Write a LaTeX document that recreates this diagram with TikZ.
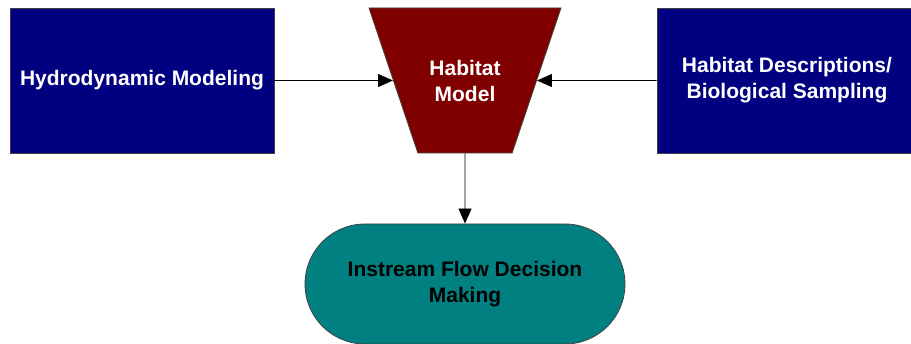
\documentclass[tikz,border=0pt]{standalone}
\usepackage{fontspec}
\setmainfont{Liberation Sans}
\usetikzlibrary{arrows.meta,shapes.geometric,shapes.misc}

\begin{document}
\begin{tikzpicture}[x=1pt,y=1pt,
  box/.style={draw=borderColor,line width=0.8pt,text=white,align=center,inner sep=0pt,
    font=\fontsize{21}{26}\selectfont\bfseries},
  flow/.style={draw=black,line width=0.8pt,-{Triangle[length=15pt,width=13pt]}}]
\definecolor{fillColor}{RGB}{255,255,255}
\definecolor{borderColor}{RGB}{64,64,64}
\definecolor{hydroColor}{RGB}{0,0,128}
\definecolor{habitatColor}{RGB}{128,0,0}
\definecolor{decisionColor}{RGB}{0,128,128}
\path[use as bounding box,fill=fillColor] (0,0) rectangle (911,343);

\node[box,fill=hydroColor,minimum width=264pt,minimum height=145pt] (hydro) at (142,262.5) {Hydrodynamic Modeling};

\node[box,fill=habitatColor,trapezium,shape border rotate=180,trapezium left angle=48.3,trapezium right angle=48.3,
  trapezium stretches=true,minimum width=192pt,minimum height=145pt] (habitat) at (465,262.5) {Habitat\\Model};

\node[box,fill=hydroColor,minimum width=260pt,minimum height=145pt] (bio) at (787,262.5) {Habitat Descriptions/\\Biological Sampling};

\node[box,fill=decisionColor,text=black,rounded rectangle,minimum width=320pt,minimum height=120pt] (decision) at (465,59) {Instream Flow Decision\\Making};

\draw[flow] (hydro.east) -- (habitat);
\draw[flow] (bio.west) -- (habitat);
\draw[flow] (habitat) -- (decision);
\end{tikzpicture}
\end{document}
